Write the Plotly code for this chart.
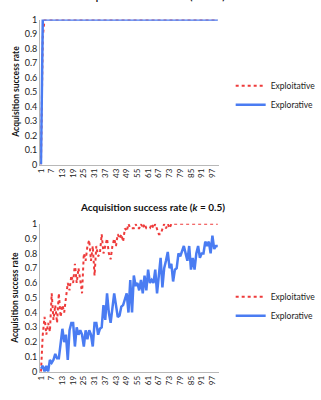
import plotly.graph_objects as go

steps = list(range(1, 101))
tick_labels = [str(v) for v in range(1, 101, 6)]

top_exploitative = [0.0, 0.88] + [1.0] * 98
top_explorative = [0.0] + [1.0] * 99

bottom_exploitative = [
    0.0, 0.25, 0.37, 0.25, 0.33, 0.27, 0.53, 0.35, 0.45, 0.33,
    0.53, 0.37, 0.45, 0.40, 0.50, 0.60, 0.55, 0.65, 0.60, 0.73,
    0.60, 0.70, 0.62, 0.53, 0.80, 0.75, 0.85, 0.89, 0.75, 0.85,
    0.65, 0.85, 0.78, 0.80, 0.93, 0.80, 0.85, 0.90, 0.80, 0.76,
    0.85, 0.90, 0.85, 0.93, 0.90, 0.93, 0.88, 0.97, 0.95, 1.00,
    0.97, 0.97, 0.97, 1.00, 0.97, 0.97, 1.00, 0.97, 1.00, 0.97,
    0.97, 0.97, 1.00, 0.97, 1.00, 0.97, 0.93, 0.93, 0.97, 1.00,
    0.97, 1.00, 0.97, 1.00] + [1.0] * 26

bottom_explorative = [
    0.02, 0.04, 0.00, 0.04, 0.00, 0.08, 0.06, 0.08, 0.12, 0.09,
    0.09, 0.20, 0.29, 0.20, 0.25, 0.08, 0.28, 0.33, 0.33, 0.17,
    0.30, 0.25, 0.28, 0.25, 0.17, 0.28, 0.22, 0.28, 0.25, 0.17,
    0.33, 0.33, 0.25, 0.29, 0.30, 0.45, 0.35, 0.53, 0.40, 0.33,
    0.45, 0.53, 0.45, 0.37, 0.38, 0.44, 0.45, 0.50, 0.53, 0.40,
    0.62, 0.40, 0.65, 0.58, 0.60, 0.55, 0.62, 0.53, 0.65, 0.55,
    0.69, 0.60, 0.62, 0.60, 0.69, 0.53, 0.65, 0.77, 0.57, 0.70,
    0.75, 0.81, 0.70, 0.73, 0.61, 0.69, 0.70, 0.80, 0.78, 0.81,
    0.85, 0.80, 0.75, 0.85, 0.69, 0.77, 0.69, 0.80, 0.85, 0.77,
    0.80, 0.80, 0.88, 0.85, 0.88, 0.80, 0.92, 0.83, 0.85, 0.85]

RED = "#ee3b3b"
BLUE = "#4a7cf2"
FONT = "Lato"
W, H = 321, 400

fig = go.Figure()

def add_pair(xa, ya, leg, exploit, explore):
    fig.add_trace(go.Scatter(x=steps, y=exploit, mode="lines", name="Exploitative",
                             line=dict(color=RED, width=2, dash="dot"),
                             xaxis=xa, yaxis=ya, legend=leg))
    fig.add_trace(go.Scatter(x=steps, y=explore, mode="lines", name="Explorative",
                             line=dict(color=BLUE, width=2.5),
                             xaxis=xa, yaxis=ya, legend=leg))

add_pair("x", "y", "legend", top_exploitative, top_explorative)
add_pair("x2", "y2", "legend2", bottom_exploitative, bottom_explorative)

xdom = [39 / W, 232 / W]
ydom_top = [1 - 163 / H, 1 - 14 / H]
ydom_bot = [1 - 376 / H, 1 - 224 / H]

xcommon = dict(domain=xdom, range=[0.5, 100.5], tickmode="array",
               tickvals=list(range(1, 101, 6)), ticktext=tick_labels,
               tickangle=-90, showgrid=False, zeroline=False,
               showline=True, linecolor="#b8b8b8", linewidth=1,
               ticks="", tickfont=dict(family=FONT, size=8, color="#222"))
ycommon = dict(range=[0, 1], tickvals=[i / 10 for i in range(11)],
               ticktext=["0", "0.1", "0.2", "0.3", "0.4", "0.5", "0.6", "0.7", "0.8", "0.9", "1"],
               showgrid=False, zeroline=False, showline=True, linecolor="#b8b8b8",
               linewidth=1, ticks="", tickfont=dict(family=FONT, size=9, color="#222"))

legcommon = dict(font=dict(family=FONT, size=8.5, color="#222"), bgcolor="rgba(0,0,0,0)",
                 itemwidth=30, tracegroupgap=0, xanchor="left", yanchor="top")

fig.update_layout(
    width=W, height=H, margin=dict(l=0, r=0, t=0, b=0),
    paper_bgcolor="white", plot_bgcolor="white",
    xaxis=dict(**xcommon, anchor="y"),
    yaxis=dict(**ycommon, domain=ydom_top, anchor="x"),
    xaxis2=dict(**xcommon, anchor="y2"),
    yaxis2=dict(**ycommon, domain=ydom_bot, anchor="x2"),
    legend=dict(**legcommon, x=245 / W, y=1 - 67 / H),
    legend2=dict(**legcommon, x=245 / W, y=1 - 284 / H),
    annotations=[
        dict(text="<b>Acquisition success rate (<i>k</i> = 0.1)</b>", xref="paper", yref="paper",
             x=161 / W, y=1 + 2 / H, xanchor="center", yanchor="bottom", showarrow=False,
             font=dict(family=FONT, size=10, color="#111")),
        dict(text="<b>Acquisition success rate (<i>k</i> = 0.5)</b>", xref="paper", yref="paper",
             x=161 / W, y=1 - 207 / H, xanchor="center", yanchor="middle", showarrow=False,
             font=dict(family=FONT, size=10, color="#111")),
        dict(text="<b>Acquisition success rate</b>", xref="paper", yref="paper",
             x=12 / W, y=1 - 88 / H, xanchor="center", yanchor="middle", textangle=-90,
             showarrow=False, font=dict(family=FONT, size=8.5, color="#111")),
        dict(text="<b>Acquisition success rate</b>", xref="paper", yref="paper",
             x=12 / W, y=1 - 300 / H, xanchor="center", yanchor="middle", textangle=-90,
             showarrow=False, font=dict(family=FONT, size=8.5, color="#111")),
    ],
)

fig.write_html("out.html")
